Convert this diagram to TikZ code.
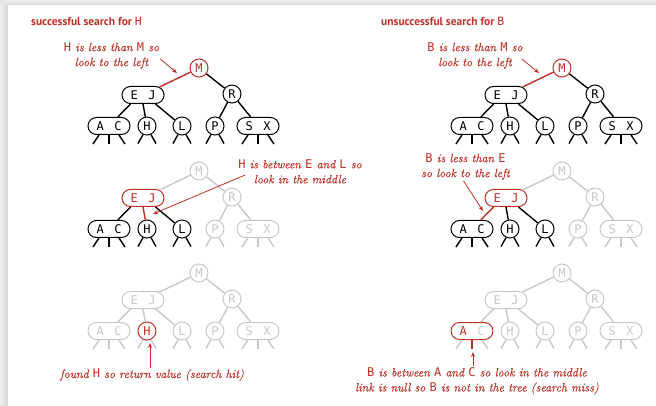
\documentclass[tikz,border=0pt]{standalone}
\usepackage{fontspec}
\newfontfamily\keyfont{DejaVu Sans Mono}
\newfontfamily\headfont{PT Sans}
\newfontfamily\notefont{lmroman12-italic.otf}[FakeBold=0.4]
\usepackage{tikz}
\usetikzlibrary{shapes.misc}
\usetikzlibrary{arrows.meta}

\definecolor{treered}{RGB}{192,48,38}
\definecolor{treegray}{RGB}{200,200,200}
\definecolor{framegray}{RGB}{214,214,214}

\newcommand{\kw}[1]{{\keyfont\upshape #1}}
\newcommand{\twokeys}[2]{#1\hspace{10.5pt}#2}
\newcommand{\firstkey}{A}

\tikzset{
  onekey/.style={circle, draw, line width=1pt, inner sep=0pt,
    minimum size=18pt, fill=white,
    font=\keyfont\fontsize{12}{12}\selectfont},
  twokey/.style={rounded rectangle, draw, line width=1pt, inner sep=0pt,
    minimum width=42pt, minimum height=17pt, fill=white,
    font=\keyfont\fontsize{12}{12}\selectfont},
  link/.style={line width=1.4pt},
  hit/.style={draw=treered, text=treered},
  dark/.style={draw=black, text=black},
  faded/.style={draw=treegray, text=treegray},
  treeink/.style=dark,
  kM/.style={}, kEJ/.style={}, kR/.style={}, kAC/.style={},
  kH/.style={}, kL/.style={}, kP/.style={}, kSX/.style={},
  lMEJ/.style={}, lMR/.style={}, lEJAC/.style={}, lEJH/.style={},
  lEJL/.style={}, lRP/.style={}, lRSX/.style={},
  nAC/.style={}, nACmid/.style={}, nH/.style={}, nL/.style={},
  nP/.style={}, nSX/.style={},
  heading/.style={anchor=west, inner sep=0pt, text=treered,
    font=\headfont\bfseries\fontsize{11.5}{13}\selectfont},
  note/.style={align=center, inner sep=1pt, text=treered,
    font=\notefont\fontsize{12}{15}\selectfont},
  pointer/.style={draw=treered, line width=0.8pt,
    -{Stealth[length=5pt,width=4pt]}}
}

% one copy of the tree, #1 = name prefix, (#2,#3) = root
\newcommand{\searchtree}[3]{%
  \node[onekey, treeink, kM] (#1M) at (#2,#3) {M};
  \node[twokey, treeink, kEJ] (#1EJ) at (#2-56,#3+27) {\twokeys{E}{J}};
  \node[onekey, treeink, kR] (#1R) at (#2+33,#3+26) {R};
  \node[twokey, treeink, kAC] (#1AC) at (#2-90,#3+58) {\twokeys{\firstkey}{C}};
  \node[onekey, treeink, kH] (#1H) at (#2-52,#3+58) {H};
  \node[onekey, treeink, kL] (#1L) at (#2-17,#3+58) {L};
  \node[onekey, treeink, kP] (#1P) at (#2+16,#3+58) {P};
  \node[twokey, treeink, kSX] (#1SX) at (#2+59,#3+58) {\twokeys{S}{X}};
  \draw[link, treeink, lMEJ] (#1M) -- (#1EJ);
  \draw[link, treeink, lMR] (#1M) -- (#1R);
  \draw[link, treeink, lEJAC] (#1EJ.south west) -- (#1AC);
  \draw[link, treeink, lEJH] (#1EJ.south) -- (#1H);
  \draw[link, treeink, lEJL] (#1EJ.south east) -- (#1L);
  \draw[link, treeink, lRP] (#1R) -- (#1P);
  \draw[link, treeink, lRSX] (#1R) -- (#1SX);
  % null links
  \draw[link, treeink, nAC] ([xshift=-10pt]#1AC.south) -- ++(-6,9);
  \draw[link, treeink, nAC, nACmid] (#1AC.south) -- ++(0,9);
  \draw[link, treeink, nAC] ([xshift=10pt]#1AC.south) -- ++(6,9);
  \draw[link, treeink, nH] (#1H.-115) -- ++(-5,9);
  \draw[link, treeink, nH] (#1H.-65) -- ++(5,9);
  \draw[link, treeink, nL] (#1L.-115) -- ++(-5,9);
  \draw[link, treeink, nL] (#1L.-65) -- ++(5,9);
  \draw[link, treeink, nP] (#1P.-115) -- ++(-5,9);
  \draw[link, treeink, nP] (#1P.-65) -- ++(5,9);
  \draw[link, treeink, nSX] ([xshift=-10pt]#1SX.south) -- ++(-6,9);
  \draw[link, treeink, nSX] (#1SX.south) -- ++(0,9);
  \draw[link, treeink, nSX] ([xshift=10pt]#1SX.south) -- ++(6,9);
}

\begin{document}
\begin{tikzpicture}[x=1pt,y=-1pt]
  \useasboundingbox (0,0) rectangle (656,406);
  \fill[framegray!60] (0,0) rectangle (656,406);
  \shade[left color=framegray!40, right color=framegray] (0,5) rectangle (8,406);
  \shade[top color=framegray!40, bottom color=framegray] (8,0) rectangle (656,5);
  \fill[white] (8,5) rectangle (656,406);

  \node[heading] (headhit) at (31,21) {successful search for \kw{\mdseries H}};
  \node[heading] (headmiss) at (381,21) {unsuccessful search for \kw{\mdseries B}};

  % successful search for H
  \begin{scope}[kM/.style=hit, lMEJ/.style=hit]
    \searchtree{a}{199}{68}
  \end{scope}
  \begin{scope}[treeink/.style=faded, kEJ/.style=hit, lEJH/.style=hit,
      kAC/.style=dark, kH/.style=dark, kL/.style=dark,
      lEJAC/.style=dark, lEJL/.style=dark,
      nAC/.style=dark, nH/.style=dark, nL/.style=dark]
    \searchtree{b}{199}{171}
  \end{scope}
  \begin{scope}[treeink/.style=faded, kH/.style=hit]
    \searchtree{c}{199}{273}
  \end{scope}

  % unsuccessful search for B
  \begin{scope}[kM/.style=hit, lMEJ/.style=hit]
    \searchtree{d}{562}{68}
  \end{scope}
  \begin{scope}[treeink/.style=faded, kEJ/.style=hit, lEJAC/.style=hit,
      kAC/.style=dark, kH/.style=dark, kL/.style=dark,
      lEJH/.style=dark, lEJL/.style=dark,
      nAC/.style=dark, nH/.style=dark, nL/.style=dark]
    \searchtree{e}{562}{171}
  \end{scope}
  \begin{scope}[treeink/.style=faded, kAC/.style={draw=treered},
      nACmid/.style=hit]
    \renewcommand{\firstkey}{\textcolor{treered}{A}}
    \searchtree{f}{562}{273}
  \end{scope}

  % notes
  \node[note] (notea) at (111.5,55.5) {\kw{H} is less than \kw{M} so\\look to the left};
  \node[note] (noted) at (475,55.5) {\kw{B} is less than \kw{M} so\\look to the left};
  \node[note] (noteb) at (300,171.5) {\kw{H} is between \kw{E} and \kw{L} so\\look in the middle};
  \node[note] (notee) at (465.5,166.5) {\kw{B} is less than \kw{E}\\so look to the left};
  \node[note] (notec) at (152,375) {found \kw{H} so return value (search hit)};
  \node[note] (notef) at (477,381) {\kw{B} is between \kw{A} and \kw{C} so look in the middle\\link is null so \kw{B} is not in the tree (search miss)};

  \coordinate (tipa) at (177,73);
  \coordinate (tipd) at (539,73);
  \coordinate (tipb) at (153,214);
  \coordinate (tipe) at (483,211);
  \coordinate (tipc) at (150,343);
  \coordinate (tipf) at (473,352);

  \draw[pointer]
    ([shift={(0pt,-3.5pt)}]notea.east)
    --
    (tipa);
  \draw[pointer]
    ([shift={(-2pt,-3.5pt)}]noted.east)
    --
    (tipd);
  \draw[pointer]
    ([shift={(8pt,-3.5pt)}]noteb.west)
    --
    (tipb);
  \draw[pointer]
    ([xshift=-2pt]notee.south)
    --
    (tipe);
  \draw[pointer]
    (notec.north -| tipc)
    --
    (tipc);
  \draw[pointer]
    (notef.north -| tipf)
    --
    (tipf);
\end{tikzpicture}
\end{document}
